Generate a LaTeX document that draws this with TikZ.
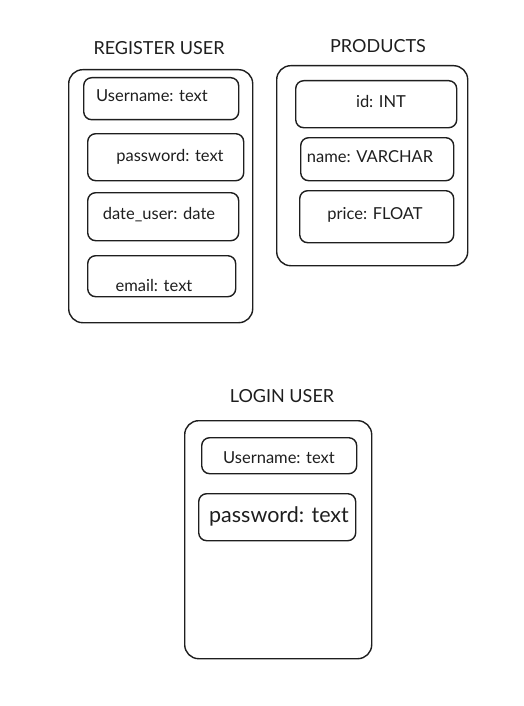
\documentclass[tikz,border=0pt]{standalone}
\usepackage{fontspec}
\setmainfont{Lato}
\definecolor{ink}{HTML}{1E1E1E}
\begin{document}
\begin{tikzpicture}[x=1pt,y=-1pt,
  outerbox/.style={draw=ink,line width=1.4pt,rounded corners=14pt,anchor=north west,inner sep=0pt},
  fieldbox/.style={draw=ink,line width=1.4pt,rounded corners=8pt,anchor=north west,inner sep=0pt},
  title/.style={text=ink,font=\fontsize{18}{20}\selectfont},
  field/.style={text=ink,font=\fontsize{16.5}{18}\selectfont},
  bigfield/.style={text=ink,font=\fontsize{21.5}{23}\selectfont}]
\useasboundingbox (0,0) rectangle (524,706);
% Register user
\node[title] (tReg) at (159,48) {REGISTER USER};
\node[outerbox,minimum width=184pt,minimum height=253pt] (reg) at (68,69) {};
\node[fieldbox,minimum width=155pt,minimum height=42pt] (rU) at (83,77) {};
\node[fieldbox,minimum width=156pt,minimum height=47pt] (rP) at (87,133) {};
\node[fieldbox,minimum width=151pt,minimum height=48pt] (rD) at (87,192) {};
\node[fieldbox,minimum width=148pt,minimum height=41pt] (rE) at (87,255) {};
\node[field] (trU) at (152,96) {Username: text};
\node[field] (trP) at (170,157) {password: text};
\node[field] (trD) at (159,215) {date\_user: date};
\node[field] (trE) at (154,285) {email: text};
% Products
\node[title] (tProd) at (378,46) {PRODUCTS};
\node[outerbox,minimum width=191pt,minimum height=200pt] (prod) at (276,65) {};
\node[fieldbox,minimum width=161pt,minimum height=47pt] (pI) at (295,80) {};
\node[fieldbox,minimum width=153pt,minimum height=43pt] (pN) at (300,137) {};
\node[fieldbox,minimum width=154pt,minimum height=52pt] (pP) at (299,190) {};
\node[field] (tpI) at (381,101) {id: INT};
\node[field] (tpN) at (370,157) {name: VARCHAR};
\node[field] (tpP) at (375,215) {price: FLOAT};
% Login user
\node[title] (tLog) at (282,396) {LOGIN USER};
\node[outerbox,minimum width=187pt,minimum height=238pt] (log) at (184,420) {};
\node[fieldbox,minimum width=155pt,minimum height=36pt] (lU) at (201,437) {};
\node[fieldbox,minimum width=157pt,minimum height=47pt] (lP) at (198,493) {};
\node[field] (tlU) at (279,458) {Username: text};
\node[bigfield] (tlP) at (279,516) {password: text};
\end{tikzpicture}
\end{document}
